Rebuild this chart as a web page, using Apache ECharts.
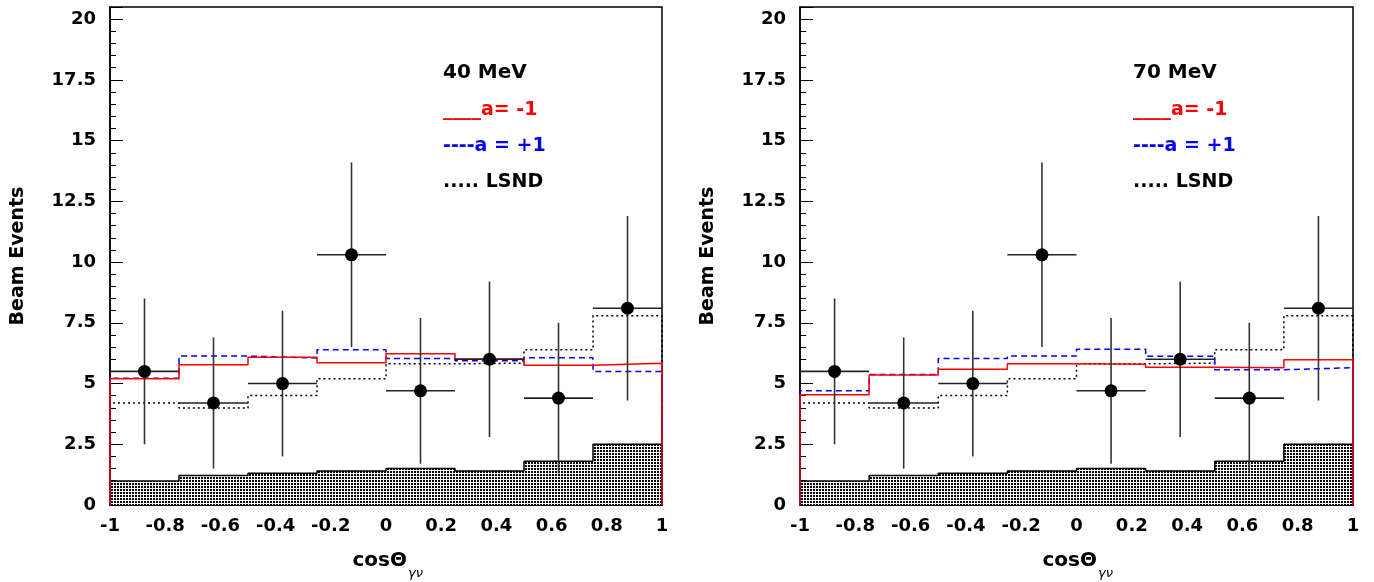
<!DOCTYPE html>
<html>
<head>
<meta charset="utf-8">
<script src="https://cdn.jsdelivr.net/npm/echarts@6/dist/echarts.min.js"></script>
<style>
html,body{margin:0;padding:0;background:#fff;}
#chart{width:1374px;height:582px;}
</style>
</head>
<body>
<div id="chart"></div>
<script>
// ---- data ----
const BIN_EDGES = [-1, -0.75, -0.5, -0.25, 0, 0.25, 0.5, 0.75, 1];
const DATA_VALUES = [5.5, 4.2, 5.0, 10.3, 4.7, 6.0, 4.4, 8.1];
const DATA_LOW    = [2.5, 1.5, 2.0, 6.5, 1.7, 2.8, 1.3, 4.3];
const DATA_HIGH   = [8.5, 6.9, 8.0, 14.1, 7.7, 9.2, 7.5, 11.9];
const LSND        = [4.2, 3.99, 4.51, 5.2, 5.81, 5.84, 6.39, 7.79];
const BACKGROUND  = [0.99, 1.21, 1.31, 1.40, 1.50, 1.40, 1.80, 2.50];
const A_MINUS_40  = [5.2, 5.77, 6.08, 5.86, 6.23, 6.01, 5.75, 5.83];
const A_PLUS_40   = [5.22, 6.13, 6.05, 6.39, 6.03, 5.94, 6.06, 5.5];
const A_MINUS_70  = [4.54, 5.35, 5.59, 5.81, 5.79, 5.67, 5.65, 5.98];
const A_PLUS_70   = [4.70, 5.37, 6.03, 6.13, 6.41, 6.12, 5.57, 5.65];
const PANEL_LABELS = ['40 MeV', '70 MeV'];
const LEGEND_TEXTS = ['____a= -1', '----a = +1', '..... LSND'];
const Y_TITLE = 'Beam Events';

const FONT = 'DejaVu Sans';

function stepData(vals) {
  const n = BIN_EDGES.length - 1;
  const d = [[BIN_EDGES[0], 0]];
  for (let i = 0; i < vals.length; i++) d.push([BIN_EDGES[i], vals[i]]);
  d.push([BIN_EDGES[n], vals[vals.length - 1]]);
  d.push([BIN_EDGES[n], 0]);
  return d;
}
function pointData() {
  return DATA_VALUES.map((v, i) => [
    (BIN_EDGES[i] + BIN_EDGES[i + 1]) / 2, v, DATA_LOW[i], DATA_HIGH[i], BIN_EDGES[i], BIN_EDGES[i + 1]
  ]);
}

// dotted pattern for background histogram
const pat = document.createElement('canvas');
pat.width = 3; pat.height = 3;
const pctx = pat.getContext('2d');
pctx.fillStyle = '#fff'; pctx.fillRect(0, 0, 3, 3);
pctx.fillStyle = '#000'; pctx.fillRect(0, 0, 2, 2);

const grids = [
  {left: 110, top: 7, width: 552, height: 498},
  {left: 800, top: 7, width: 553, height: 498}
];

function xAxis(idx) {
  return {
    type: 'value', gridIndex: idx, min: -1, max: 1, interval: 0.2,
    axisLine: {show: true, onZero: false, lineStyle: {color: '#000', width: 1.5}},
    axisTick: {show: true, inside: true, length: 13, lineStyle: {color: '#000', width: 1}},
    minorTick: {show: true, splitNumber: 4, length: 6, lineStyle: {color: '#000', width: 1}},
    splitLine: {show: false},
    axisLabel: {
      color: '#000', fontFamily: FONT, fontWeight: 'bold', fontSize: 18, margin: 12,
      formatter: v => String(+(+v).toFixed(1))
    }
  };
}
function yAxis(idx) {
  return {
    type: 'value', gridIndex: idx, min: 0, max: 20.5, interval: 2.5,
    axisLine: {show: true, onZero: false, lineStyle: {color: '#000', width: 1.5}},
    axisTick: {show: true, inside: true, length: 13, lineStyle: {color: '#000', width: 1}},
    minorTick: {show: true, splitNumber: 5, length: 6, lineStyle: {color: '#000', width: 1}},
    splitLine: {show: false},
    axisLabel: {
      color: '#000', fontFamily: FONT, fontWeight: 'bold', fontSize: 18, margin: 14,
      showMaxLabel: false,
      formatter: v => String(+(+v).toFixed(1))
    }
  };
}

function panelSeries(idx, aMinus, aPlus) {
  return [
    {
      type: 'line', xAxisIndex: idx, yAxisIndex: idx, step: 'end', showSymbol: false, silent: true,
      data: stepData(BACKGROUND), z: 1,
      lineStyle: {color: '#000', width: 1.5},
      areaStyle: {color: {image: pat, repeat: 'repeat'}, opacity: 1}
    },
    {
      type: 'line', xAxisIndex: idx, yAxisIndex: idx, step: 'end', showSymbol: false, silent: true,
      data: stepData(LSND), z: 2,
      lineStyle: {color: '#000', width: 1.5, type: [2, 3]}
    },
    {
      type: 'line', xAxisIndex: idx, yAxisIndex: idx, step: 'end', showSymbol: false, silent: true,
      data: stepData(aPlus), z: 3,
      lineStyle: {color: '#0000ff', width: 1.5, type: [6, 4]}
    },
    {
      type: 'line', xAxisIndex: idx, yAxisIndex: idx, step: 'end', showSymbol: false, silent: true,
      data: stepData(aMinus), z: 4,
      lineStyle: {color: '#ff0000', width: 1.5}
    },
    {
      type: 'custom', xAxisIndex: idx, yAxisIndex: idx, z: 5, silent: true,
      data: pointData(),
      encode: {x: 0, y: 1},
      renderItem: function (params, api) {
        const xc = api.value(0), y = api.value(1), lo = api.value(2), hi = api.value(3);
        const xl = api.value(4), xr = api.value(5);
        const pc = api.coord([xc, y]);
        const plo = api.coord([xc, lo]), phi = api.coord([xc, hi]);
        const pl = api.coord([xl, y]), pr = api.coord([xr, y]);
        return {
          type: 'group',
          children: [
            {type: 'line', shape: {x1: plo[0], y1: plo[1], x2: phi[0], y2: phi[1]}, style: {stroke: '#333', lineWidth: 1.6}},
            {type: 'line', shape: {x1: pl[0], y1: pl[1], x2: pr[0], y2: pr[1]}, style: {stroke: '#222', lineWidth: 1.6}},
            {type: 'circle', shape: {cx: pc[0], cy: pc[1], r: 6.5}, style: {fill: '#000'}}
          ]
        };
      }
    }
  ];
}

function panelGraphics(gx, xTitleCenter, yTitleX, legendX, label) {
  const colors = ['#ff0000', '#0000ff', '#000'];
  const items = [
    {type: 'text', x: legendX, y: 73, style: {text: label, fill: '#000', font: 'bold 20px "DejaVu Sans"', align: 'left', verticalAlign: 'middle'}},
  ];
  const ys = [110, 146, 182];
  LEGEND_TEXTS.forEach((t, i) => items.push({
    type: 'text', x: legendX, y: ys[i],
    style: {text: t, fill: colors[i], font: 'bold 19px "DejaVu Sans"', align: 'left', verticalAlign: 'middle'}
  }));
  items.push({
    type: 'text', x: yTitleX, y: 256, rotation: Math.PI / 2,
    style: {text: Y_TITLE, fill: '#000', font: 'bold 19px "DejaVu Sans"', align: 'center', verticalAlign: 'middle'}
  });
  items.push({
    type: 'text', x: xTitleCenter + 21, y: 561,
    style: {text: 'cosΘ', fill: '#000', font: 'bold 20px "DejaVu Sans"', align: 'right', verticalAlign: 'middle'}
  });
  items.push({
    type: 'text', x: xTitleCenter + 22, y: 574,
    style: {text: 'γν', fill: '#000', font: 'italic 13px "DejaVu Sans"', align: 'left', verticalAlign: 'middle'}
  });
  return items;
}

const chart = echarts.init(document.getElementById('chart'), null, {renderer: 'canvas'});
chart.setOption({
  animation: false,
  backgroundColor: '#fff',
  grid: grids.map(g => Object.assign({show: true, borderColor: '#000', borderWidth: 1.5, backgroundColor: 'transparent'}, g)),
  xAxis: [xAxis(0), xAxis(1)],
  yAxis: [yAxis(0), yAxis(1)],
  series: panelSeries(0, A_MINUS_40, A_PLUS_40).concat(panelSeries(1, A_MINUS_70, A_PLUS_70)),
  graphic: panelGraphics(0, 386, 18, 443, PANEL_LABELS[0]).concat(panelGraphics(1, 1076, 708, 1133, PANEL_LABELS[1]))
});
</script>
</body>
</html>
